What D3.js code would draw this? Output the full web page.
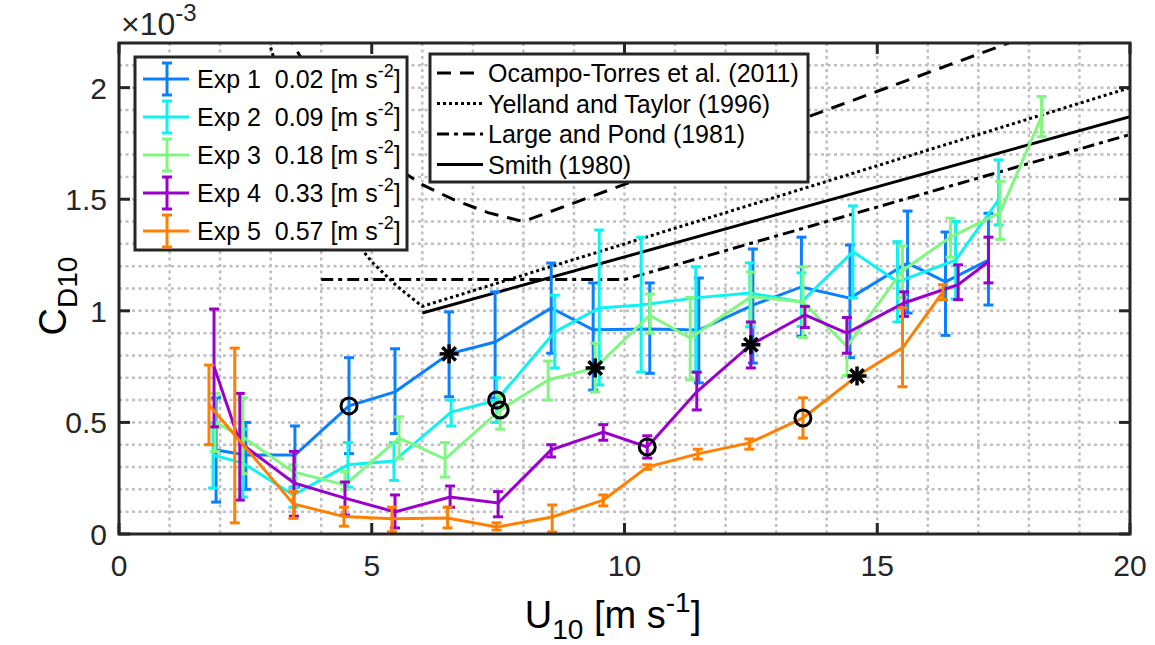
<!DOCTYPE html>
<html>
<head>
<meta charset="utf-8">
<script src="https://cdn.jsdelivr.net/npm/d3@7"></script>
<style>
  body { margin: 0; background: #fff; }
  text { font-family: "Liberation Sans", Arial, Helvetica, sans-serif; fill: #000; white-space: pre; }
</style>
</head>
<body>
<div id="chart"></div>
<script>
// axis ticks (C_D in units of 1e-3)
var xTicks = [0, 5, 10, 15, 20];
var yTicks = [0, 0.5, 1, 1.5, 2];

// experiments
var expNames = ["Exp 1", "Exp 2", "Exp 3", "Exp 4", "Exp 5"];
var expAccel = ["0.02", "0.09", "0.18", "0.33", "0.57"];
var expColors = ["#0a80ff", "#10f2f2", "#80f880", "#9a00cc", "#ff8000"];

var exp1U  = [1.92, 2.51, 3.48, 4.55, 5.46, 6.53, 7.44, 8.55, 9.38, 10.5, 11.47, 12.54, 13.5, 14.46, 15.6, 16.35, 17.2];
var exp1C  = [0.376, 0.354, 0.354, 0.574, 0.637, 0.807, 0.86, 1.013, 0.915, 0.918, 0.914, 1.026, 1.107, 1.057, 1.214, 1.13, 1.227];
var exp1Lo = [0.143, 0.20, 0.21, 0.36, 0.45, 0.615, 0.61, 0.81, 0.645, 0.72, 0.677, 0.766, 0.887, 0.79, 0.99, 0.89, 1.026];
var exp1Hi = [0.61, 0.50, 0.484, 0.79, 0.83, 0.995, 1.085, 1.214, 1.125, 1.125, 1.147, 1.277, 1.33, 1.295, 1.447, 1.353, 1.437];

var exp2U  = [1.86, 2.45, 3.45, 4.53, 5.44, 6.57, 7.47, 8.62, 9.5, 10.33, 11.41, 12.48, 13.5, 14.52, 15.4, 16.55, 17.4];
var exp2C  = [0.354, 0.318, 0.175, 0.31, 0.327, 0.546, 0.60, 0.905, 1.013, 1.026, 1.058, 1.08, 1.04, 1.265, 1.13, 1.227, 1.497];
var exp2Lo = [0.206, 0.166, 0.12, 0.21, 0.24, 0.484, 0.50, 0.744, 0.668, 0.726, 0.726, 0.928, 0.93, 1.058, 0.95, 1.053, 1.385];
var exp2Hi = [0.50, 0.47, 0.21, 0.41, 0.41, 0.60, 0.70, 1.07, 1.362, 1.33, 1.197, 1.215, 1.17, 1.47, 1.31, 1.40, 1.676];

var exp3U  = [1.9, 2.45, 3.45, 4.47, 5.54, 6.45, 7.54, 8.49, 9.42, 10.5, 11.3, 12.5, 13.53, 14.4, 15.5, 16.45, 17.43, 18.25];
var exp3C  = [0.50, 0.435, 0.278, 0.22, 0.43, 0.336, 0.556, 0.69, 0.744, 0.98, 0.878, 1.063, 1.04, 0.84, 1.18, 1.33, 1.44, 1.87];
var exp3Lo = [0.37, 0.27, 0.25, 0.20, 0.337, 0.255, 0.47, 0.60, 0.636, 0.90, 0.69, 0.94, 0.88, 0.71, 1.06, 1.24, 1.32, 1.78];
var exp3Hi = [0.63, 0.61, 0.31, 0.28, 0.525, 0.41, 0.62, 0.775, 0.855, 1.075, 1.06, 1.174, 1.197, 0.97, 1.29, 1.415, 1.58, 1.96];

var exp4U  = [1.88, 2.39, 3.46, 4.47, 5.46, 6.55, 7.5, 8.55, 9.58, 10.45, 11.43, 12.5, 13.57, 14.4, 15.53, 16.6, 17.2];
var exp4C  = [0.75, 0.41, 0.229, 0.161, 0.099, 0.166, 0.139, 0.377, 0.457, 0.39, 0.637, 0.848, 0.982, 0.90, 1.035, 1.117, 1.22];
var exp4Lo = [0.48, 0.152, 0.08, 0.085, 0.027, 0.12, 0.077, 0.345, 0.42, 0.34, 0.556, 0.744, 0.925, 0.81, 0.975, 1.05, 1.125];
var exp4Hi = [1.008, 0.63, 0.37, 0.233, 0.175, 0.215, 0.19, 0.40, 0.49, 0.44, 0.725, 0.95, 1.02, 0.97, 1.085, 1.206, 1.33];

var exp5U  = [1.78, 2.29, 3.45, 4.45, 5.4, 6.5, 7.47, 8.57, 9.58, 10.45, 11.45, 12.47, 13.53, 14.6, 15.5, 16.3];
var exp5C  = [0.578, 0.444, 0.135, 0.078, 0.068, 0.072, 0.031, 0.076, 0.152, 0.30, 0.359, 0.408, 0.52, 0.708, 0.834, 1.085];
var exp5Lo = [0.40, 0.05, 0.07, 0.035, 0.01, 0.027, 0.018, 0.009, 0.126, 0.29, 0.336, 0.38, 0.43, 0.70, 0.66, 1.05];
var exp5Hi = [0.757, 0.833, 0.19, 0.12, 0.12, 0.12, 0.05, 0.13, 0.175, 0.31, 0.38, 0.426, 0.61, 0.72, 1.013, 1.117];

// index of the point with an open circle / asterisk (-1 = none)
var circleIdx   = [3, 6, 6, 9, 12];
var asteriskIdx = [5, -1, 8, 11, 13];

// reference parameterisations
var refNames = ["Ocampo-Torres et al. (2011)", "Yelland and Taylor (1996)", "Large and Pond (1981)", "Smith (1980)"];
var refDash = ["14,9", "3,3", "12,5,4,5", null];
var ocampoU  = [3.3, 4, 4.5, 5, 5.5, 6, 6.6, 7.3, 8, 17.6];
var ocampoC  = [2.25, 1.98, 1.84, 1.73, 1.64, 1.565, 1.50, 1.44, 1.40, 2.2];
var yellandU = [3, 3.5, 4, 4.5, 5, 5.5, 6, 20];
var yellandC = [2.18, 1.80, 1.55, 1.36, 1.22, 1.11, 1.02, 2.0];
var largeU   = [4, 10, 20];
var largeC   = [1.14, 1.14, 1.79];
var smithU   = [6, 20];
var smithC   = [0.99, 1.87];

drawChart();

function drawChart() {
  var width = 1155, height = 645;
  var pLeft = 119, pRight = 1130, pTop = 43, pBottom = 534;
  var axisColor = "#262626";

  var x = d3.scaleLinear().domain([0, 20]).range([pLeft, pRight]);
  var y = d3.scaleLinear().domain([0, 2.2]).range([pBottom, pTop]);

  var svg = d3.select("#chart").append("svg")
    .attr("width", width).attr("height", height);

  svg.append("clipPath").attr("id", "plotclip")
    .append("rect").attr("x", pLeft).attr("y", pTop)
    .attr("width", pRight - pLeft).attr("height", pBottom - pTop);

  // grid (dotted, every 1 m/s and every 0.1e-3)
  var grid = svg.append("g");
  grid.selectAll(".gx").data(d3.range(1, 20)).enter().append("line")
    .attr("x1", d => x(d)).attr("x2", d => x(d))
    .attr("y1", pTop).attr("y2", pBottom)
    .attr("stroke", "#bfbfbf").attr("stroke-width", 2.5).attr("stroke-dasharray", "3,3.5");
  grid.selectAll(".gy").data(d3.range(1, 22).map(d => d / 10)).enter().append("line")
    .attr("x1", pLeft).attr("x2", pRight)
    .attr("y1", d => y(d)).attr("y2", d => y(d))
    .attr("stroke", "#bfbfbf").attr("stroke-width", 2.5).attr("stroke-dasharray", "3,3.5");

  var plot = svg.append("g").attr("clip-path", "url(#plotclip)");

  // reference curves
  var refU = [ocampoU, yellandU, largeU, smithU];
  var refC = [ocampoC, yellandC, largeC, smithC];
  var line = d3.line().x(d => x(d[0])).y(d => y(d[1]));
  refU.forEach(function(us, i) {
    plot.append("path")
      .datum(us.map((u, k) => [u, refC[i][k]]))
      .attr("d", line)
      .attr("fill", "none")
      .attr("stroke", "#000")
      .attr("stroke-width", 3)
      .attr("stroke-dasharray", refDash[i]);
  });

  // experiments with error bars
  var expU = [exp1U, exp2U, exp3U, exp4U, exp5U];
  var expC = [exp1C, exp2C, exp3C, exp4C, exp5C];
  var expLo = [exp1Lo, exp2Lo, exp3Lo, exp4Lo, exp5Lo];
  var expHi = [exp1Hi, exp2Hi, exp3Hi, exp4Hi, exp5Hi];
  var cap = 5;

  expU.forEach(function(us, i) {
    var pts = us.map((u, k) => ({u: u, c: expC[i][k], lo: expLo[i][k], hi: expHi[i][k]}));
    var g = plot.append("g").attr("stroke", expColors[i]).attr("stroke-width", 3).attr("fill", "none");
    g.append("path").datum(pts)
      .attr("d", d3.line().x(d => x(d.u)).y(d => y(d.c)));
    g.selectAll(".eb").data(pts).enter().append("line")
      .attr("x1", d => x(d.u)).attr("x2", d => x(d.u))
      .attr("y1", d => y(d.lo)).attr("y2", d => y(d.hi));
    g.selectAll(".cl").data(pts).enter().append("line")
      .attr("x1", d => x(d.u) - cap).attr("x2", d => x(d.u) + cap)
      .attr("y1", d => y(d.lo)).attr("y2", d => y(d.lo));
    g.selectAll(".ch").data(pts).enter().append("line")
      .attr("x1", d => x(d.u) - cap).attr("x2", d => x(d.u) + cap)
      .attr("y1", d => y(d.hi)).attr("y2", d => y(d.hi));
  });

  // markers
  expU.forEach(function(us, i) {
    if (circleIdx[i] >= 0) {
      var k = circleIdx[i];
      plot.append("circle")
        .attr("cx", x(us[k])).attr("cy", y(expC[i][k])).attr("r", 8)
        .attr("fill", "none").attr("stroke", "#000").attr("stroke-width", 3);
    }
    if (asteriskIdx[i] >= 0) {
      var j = asteriskIdx[i];
      var cx = x(us[j]), cy = y(expC[i][j]), r = 9.5;
      var ast = plot.append("g").attr("stroke", "#000").attr("stroke-width", 3.5);
      [0, 45, 90, 135].forEach(function(a) {
        var rad = a * Math.PI / 180;
        ast.append("line")
          .attr("x1", cx - r * Math.cos(rad)).attr("y1", cy - r * Math.sin(rad))
          .attr("x2", cx + r * Math.cos(rad)).attr("y2", cy + r * Math.sin(rad));
      });
    }
  });

  // axes box and ticks
  svg.append("rect").attr("x", pLeft).attr("y", pTop)
    .attr("width", pRight - pLeft).attr("height", pBottom - pTop)
    .attr("fill", "none").attr("stroke", axisColor).attr("stroke-width", 3);

  var tl = 11;
  var ticks = svg.append("g").attr("stroke", axisColor).attr("stroke-width", 3);
  xTicks.forEach(function(t) {
    ticks.append("line").attr("x1", x(t)).attr("x2", x(t)).attr("y1", pBottom).attr("y2", pBottom - tl);
    ticks.append("line").attr("x1", x(t)).attr("x2", x(t)).attr("y1", pTop).attr("y2", pTop + tl);
  });
  yTicks.forEach(function(t) {
    ticks.append("line").attr("x1", pLeft).attr("x2", pLeft + tl).attr("y1", y(t)).attr("y2", y(t));
    ticks.append("line").attr("x1", pRight).attr("x2", pRight - tl).attr("y1", y(t)).attr("y2", y(t));
  });

  svg.selectAll(".xt").data(xTicks).enter().append("text")
    .attr("x", d => x(d)).attr("y", pBottom + 42)
    .attr("text-anchor", "middle").attr("font-size", 30)
    .style("fill", "#262626")
    .text(d => d);
  svg.selectAll(".yt").data(yTicks).enter().append("text")
    .attr("x", pLeft - 12).attr("y", d => y(d) + 11)
    .attr("text-anchor", "end").attr("font-size", 30)
    .style("fill", "#262626")
    .text(d => d);

  // exponent label
  var ex = svg.append("text").attr("x", 121).attr("y", 35).attr("font-size", 32).style("fill", "#262626");
  ex.append("tspan").text("\u00d710");
  ex.append("tspan").attr("font-size", 24).attr("dy", -14).text("-3");

  // axis labels
  var xl = svg.append("text").attr("x", 613).attr("y", 628).attr("text-anchor", "middle").attr("font-size", 38);
  xl.append("tspan").text("U");
  xl.append("tspan").attr("font-size", 28).attr("dy", 11).text("10");
  xl.append("tspan").attr("dy", -11).text(" [m s");
  xl.append("tspan").attr("font-size", 28).attr("dy", -16).text("-1");
  xl.append("tspan").attr("dy", 16).text("]");

  var yl = svg.append("text").attr("transform", "translate(66,296) rotate(-90)")
    .attr("text-anchor", "middle").attr("font-size", 38);
  yl.append("tspan").text("C");
  yl.append("tspan").attr("font-size", 28).attr("dy", 11).text("D10");

  // legend of experiments
  var lg1 = svg.append("g");
  lg1.append("rect").attr("x", 135).attr("y", 57).attr("width", 272).attr("height", 193)
    .attr("fill", "#fff").attr("stroke", axisColor).attr("stroke-width", 3);
  expNames.forEach(function(name, i) {
    var ry = 79 + i * 38;
    var g = lg1.append("g").attr("stroke", expColors[i]).attr("stroke-width", 3);
    g.append("line").attr("x1", 143).attr("x2", 189).attr("y1", ry).attr("y2", ry);
    g.append("line").attr("x1", 167).attr("x2", 167).attr("y1", ry - 16).attr("y2", ry + 16);
    g.append("line").attr("x1", 162).attr("x2", 172).attr("y1", ry - 16).attr("y2", ry - 16);
    g.append("line").attr("x1", 162).attr("x2", 172).attr("y1", ry + 16).attr("y2", ry + 16);
    var t = lg1.append("text").attr("x", 197).attr("y", ry + 9).attr("font-size", 25);
    t.append("tspan").text(name + "  " + expAccel[i] + " [m s");
    t.append("tspan").attr("font-size", 18).attr("dy", -11).text("-2");
    t.append("tspan").attr("dy", 11).text("]");
  });

  // legend of parameterisations
  var lg2 = svg.append("g");
  lg2.append("rect").attr("x", 430).attr("y", 54).attr("width", 378).attr("height", 128)
    .attr("fill", "#fff").attr("stroke", axisColor).attr("stroke-width", 3);
  refNames.forEach(function(name, i) {
    var ry = 73 + i * 30.5;
    lg2.append("line").attr("x1", 437).attr("x2", 483).attr("y1", ry).attr("y2", ry)
      .attr("stroke", "#000").attr("stroke-width", 3)
      .attr("stroke-dasharray", refDash[i]);
    lg2.append("text").attr("x", 488).attr("y", ry + 9).attr("font-size", 25).text(name);
  });
}
</script>
</body>
</html>
